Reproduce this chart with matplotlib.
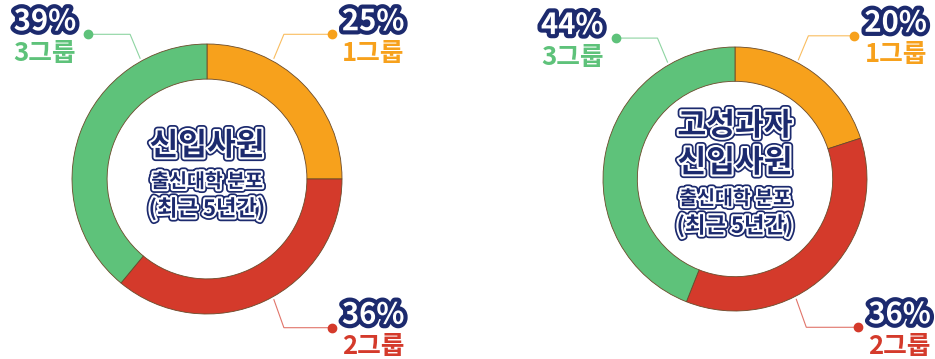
import matplotlib
matplotlib.use("Agg")
import matplotlib.pyplot as plt
import matplotlib.patheffects as pe
import numpy as np

plt.rcParams['font.family'] = ['Noto Sans CJK KR', 'DejaVu Sans']

# share of new hires by university group, last 5 years
groups = ["1그룹", "2그룹", "3그룹"]
all_hires = [25, 36, 39]
top_performers = [20, 36, 44]
titles_left = ["신입사원"]
titles_right = ["고성과자", "신입사원"]
subtitle = ["출신대학 분포", "(최근 5년간)"]

colors = ["#F7A11C", "#D43A2B", "#5EC27A"]
navy = "#1C2A6E"

W, H = 935, 359
fig = plt.figure(figsize=(W / 100, H / 100), dpi=100)
ax = fig.add_axes([0, 0, 1, 1])
ax.set_xlim(0, W)
ax.set_ylim(0, H)
ax.set_aspect("equal")
ax.axis("off")

pct_fx = [pe.Stroke(linewidth=6, foreground=navy), pe.Normal()]
title_fx = [pe.Stroke(linewidth=5.5, foreground=navy),
            pe.Stroke(linewidth=3, foreground="white"), pe.Normal()]


def donut(values, cx, cy, r, title_lines, title_y, label_pos):
    ax.pie(values, colors=colors, startangle=90, counterclock=False,
           center=(cx, cy), radius=r, frame=True,
           wedgeprops=dict(width=r * 0.26, edgecolor="#6a4a2a", linewidth=0.6))

    # centre caption
    y = title_y
    for line in title_lines:
        ax.text(cx, y, line, ha="center", va="center", fontsize=22.5,
                fontweight="bold", color=navy, path_effects=title_fx)
        y -= 37
    y += 1
    for i, line in enumerate(subtitle):
        ax.text(cx, y, line, ha="center", va="center",
                fontsize=14 if i == 0 else 16, fontweight="bold",
                color=navy, path_effects=title_fx)
        y -= 27

    # leader lines with percentage and group labels
    for val, name, col, (ang, dx, side) in zip(values, groups, colors, label_pos):
        a = np.deg2rad(ang)
        x0, y0 = cx + (r + 3) * np.cos(a), cy + (r + 3) * np.sin(a)
        elbow_y = y0 + (24 if ang > 0 else -28)
        x1 = x0 + 10 * side
        x2 = x1 + dx * side
        ax.plot([x0, x1, x2], [y0, elbow_y, elbow_y], color=col, lw=0.8, alpha=0.7)
        ax.plot(x2, elbow_y, "o", color=col, ms=6)
        if side > 0:
            tx, ha = x2 + 10, "left"
        else:
            tx, ha = x2 - 12, "right"
        ax.text(tx, elbow_y + 13, f"{val}%", ha=ha, va="center", fontsize=21,
                fontweight="bold", color="white", path_effects=pct_fx)
        ax.text(tx, elbow_y - 19, name, ha=ha, va="center", fontsize=18.5,
                fontweight="semibold", color=col)


donut(all_hires, 207, 180, 135, titles_left, 213,
      [(61, 48, 1), (-61, 48, 1), (119, 42, -1)])
donut(top_performers, 735, 180, 132, titles_right, 233,
      [(62, 46, 1), (-63, 52, 1), (120, 42, -1)])

ax.set_xlim(0, W)
ax.set_ylim(0, H)
fig.savefig("out.png", dpi=100, facecolor="white")
